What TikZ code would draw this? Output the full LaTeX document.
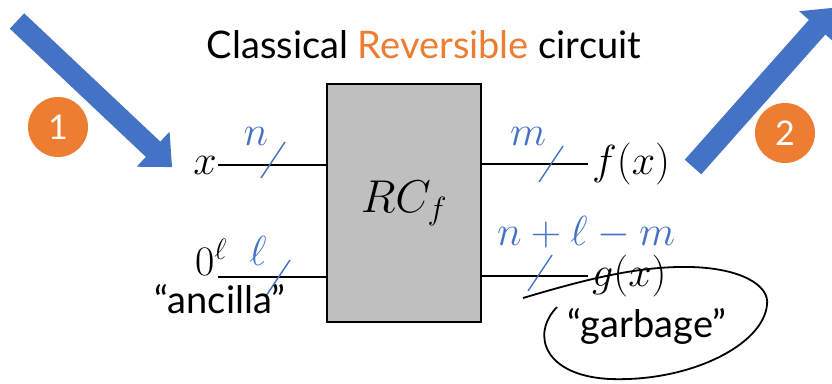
\RequirePackage{fix-cm}
\documentclass[tikz,border=0pt]{standalone}
\usepackage{amsmath}
\usepackage{fontspec}
\setmainfont{Lato}
\usepackage{tikz}
\usetikzlibrary{arrows.meta, positioning, calc}

\definecolor{pporange}{HTML}{ED7D31}
\definecolor{ppblue}{HTML}{4472C4}
\definecolor{gatefill}{HTML}{BFBFBF}
\newcommand{\lblsize}{\fontsize{42}{46}\selectfont}

\begin{document}
\begin{tikzpicture}[
        x=1pt, y=-1pt,
        gate/.style={rectangle, draw=black, line width=2.2pt, fill=gatefill, minimum width=154pt, minimum height=238pt, font=\fontsize{46}{50}\selectfont},
        wire/.style={line width=2pt},
        bundle/.style={draw=ppblue, line width=1.4pt},
        qlabel/.style={font=\lblsize, inner sep=1pt},
        wlabel/.style={qlabel, text=ppblue},
        badge/.style={circle, fill=pporange, minimum size=60pt, inner sep=0pt, text=white, font=\fontsize{34}{38}\selectfont},
        bigarrow/.style={fill=ppblue}
    ]
        \clip (0,0) rectangle (832,383);

        % Titel
        \node[anchor=base, font=\fontsize{38}{42}\selectfont] (title) at (424,58) {Classical \textcolor{pporange}{Reversible} circuit};

        % Gatter
        \node[gate] (rc) at (404,203) {$RC_f$};

        % Leitungen
        \coordinate (inx) at (218,165);
        \coordinate (inz) at (218,277);
        \coordinate (outf) at (588,164);
        \coordinate (outg) at (588,276);
        \draw[wire] (inx) -- (inx -| rc.west);
        \draw[wire] (inz) -- (inz -| rc.west);
        \draw[wire] (outf -| rc.east) -- (outf);
        \draw[wire] (outg -| rc.east) -- (outg);

        % Bündelstriche
        \coordinate (sx) at (273,160);
        \coordinate (sz) at (278,278);
        \coordinate (sf) at (551,164);
        \coordinate (sg) at (540,273);
        \foreach \s in {sx, sz, sf, sg} {
            \draw[bundle] ($(\s)+(12,-18)$) -- ($(\s)+(-12,18)$);
        }

        % Beschriftungen
        \node[qlabel, anchor=east] (xlab) at (inx) {$x$};
        \node[qlabel, anchor=base west] (zlab) at (194,275) {$0^{\ell}$};
        \node[wlabel, anchor=base] (nlab) at (256,145) {$n$};
        \node[wlabel, anchor=base] (llab) at (258,265) {$\ell$};
        \node[wlabel, anchor=base] (mlab) at (528,145) {$m$};
        \node[wlabel, anchor=base] (glab) at (586,245) {$n+\ell-m$};
        \node[qlabel, right=3pt of outf] (fx) {$f(x)$};
        \node[qlabel, right=3pt of outg] (gx) {$g(x)$};
        \node[anchor=base, font=\fontsize{38}{42}\selectfont] (anc) at (220,313) {“ancilla”};
        \node[anchor=base, font=\fontsize{38}{42}\selectfont] (garb) at (647,337) {“garbage”};

        % Schlinge um den Müll
        \draw[line width=1.8pt] (523,298) .. controls (590,278) and (640,266) .. (690,267)
            .. controls (740,268) and (770,285) .. (767,305)
            .. controls (763,345) and (690,382) .. (610,379)
            .. controls (545,376) and (530,335) .. (557,307);

        % Pfeile
        \coordinate (a1s) at (17,21);
        \coordinate (a2s) at (693,167);
        \begin{scope}[shift={(a1s)}, rotate=-43.3]
            \fill[bigarrow] (0,10.5) -- (187,10.5) -- (187,24) -- (213,0) -- (187,-24) -- (187,-10.5) -- (0,-10.5) -- cycle;
        \end{scope}
        \begin{scope}[shift={(a2s)}, rotate=48.4]
            \fill[bigarrow] (0,11) -- (187,11) -- (187,24) -- (213,0) -- (187,-24) -- (187,-11) -- (0,-11) -- cycle;
        \end{scope}

        \node[badge] (one) at (58,127) {1};
        \node[badge] (two) at (785,133) {2};

    \end{tikzpicture}
\end{document}
